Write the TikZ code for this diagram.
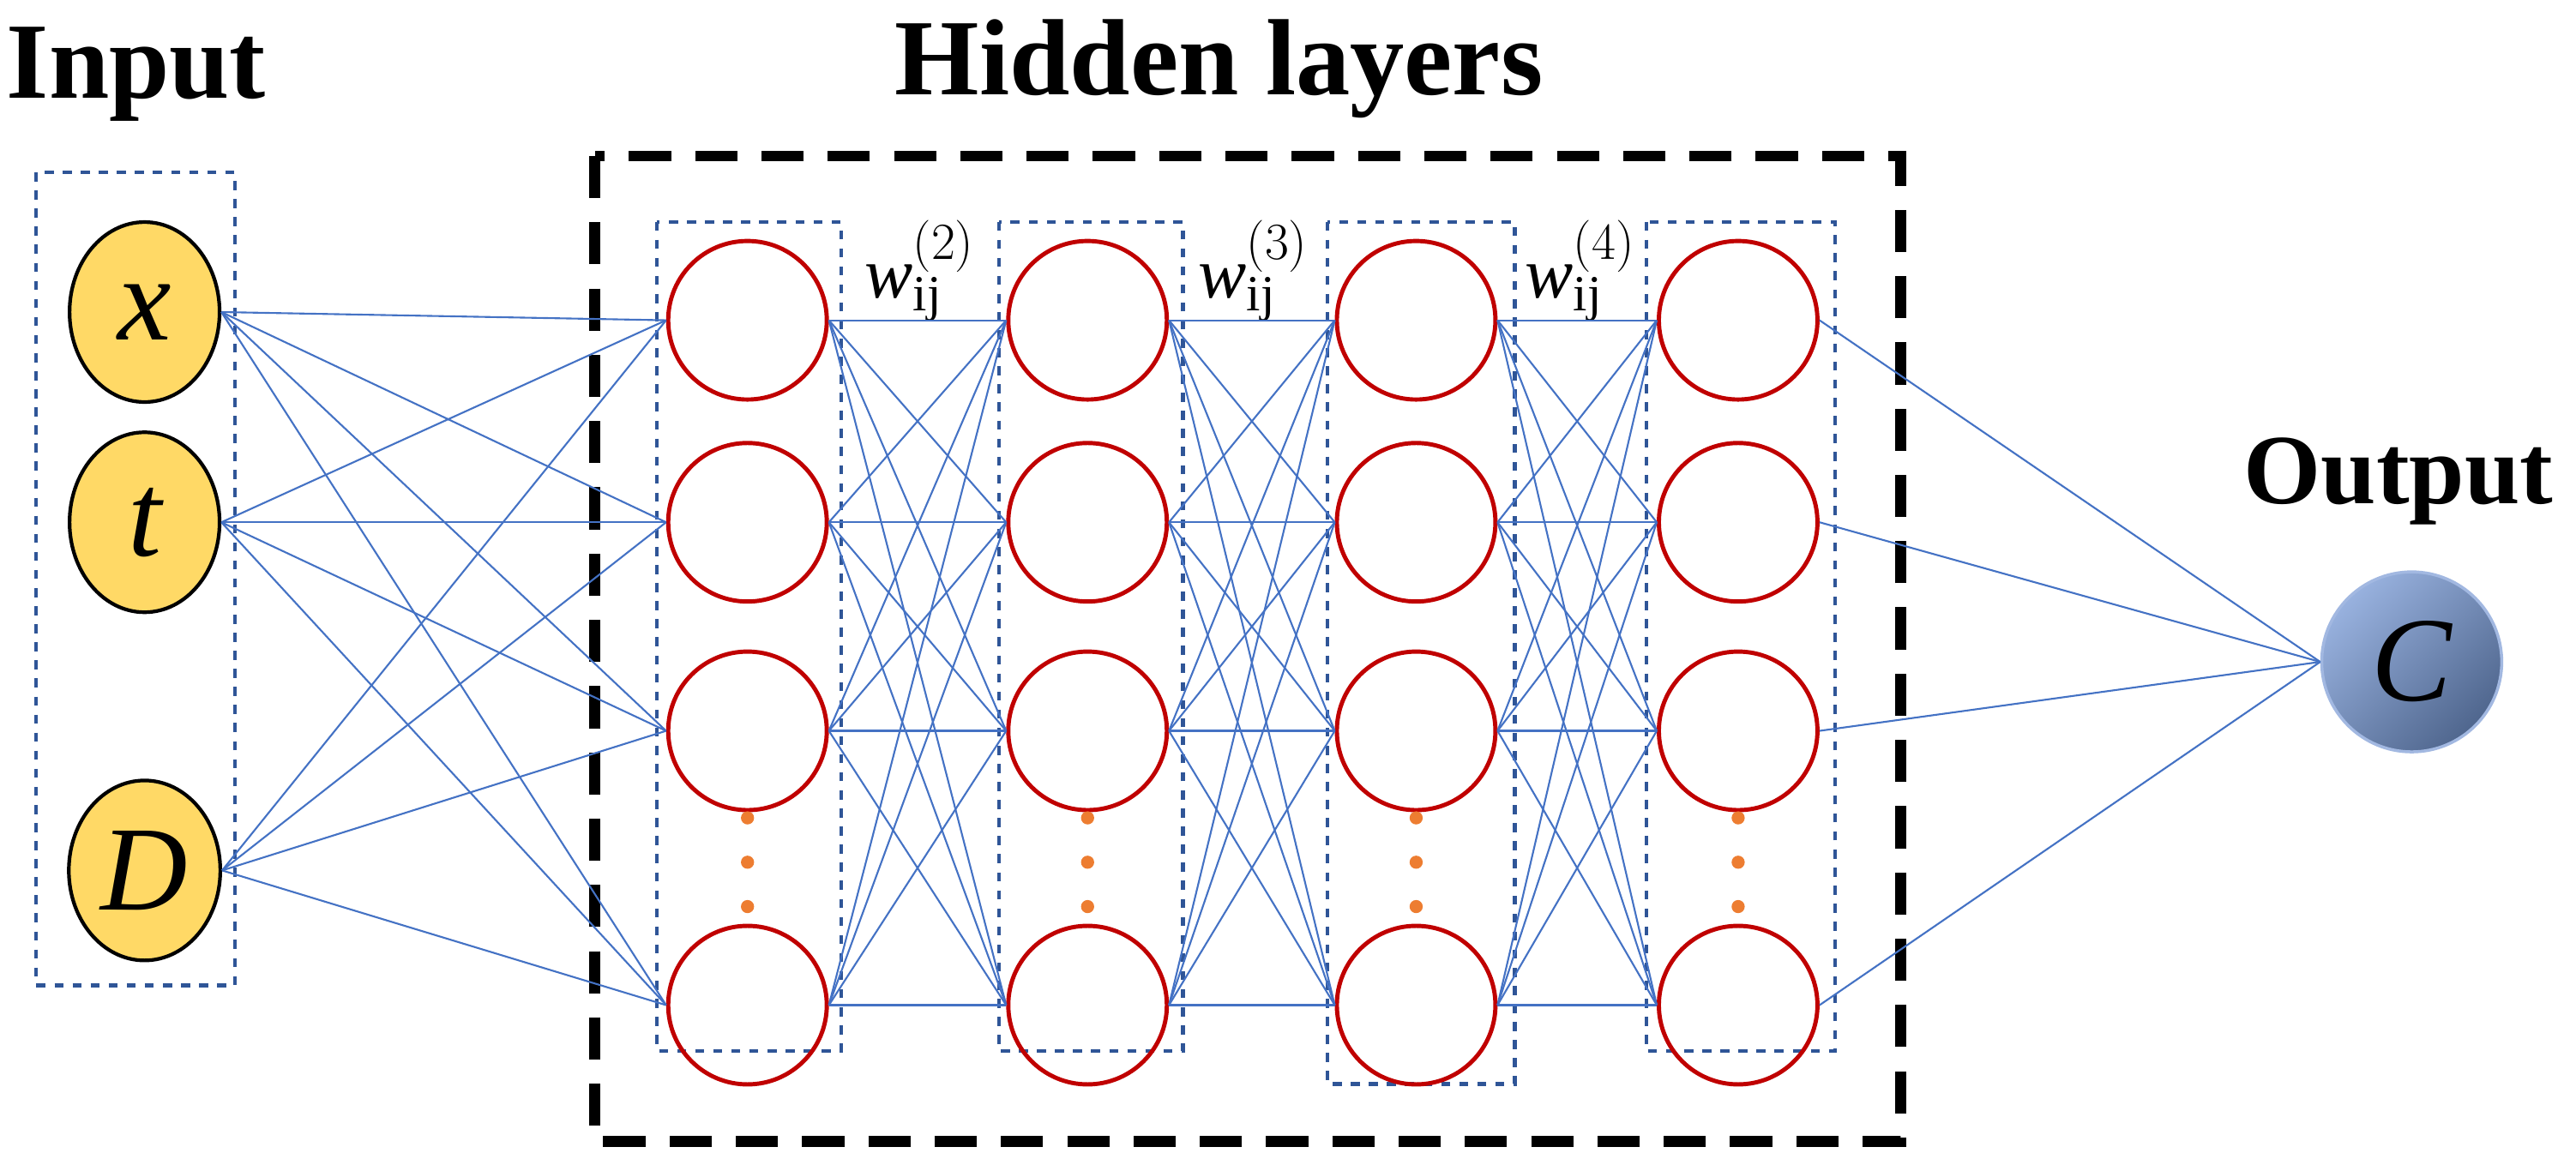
\documentclass[tikz,border=0pt]{standalone}
\usepackage{fontspec}
\setmainfont{Liberation Serif}
\usetikzlibrary{shapes.geometric}
\definecolor{linkblue}{RGB}{68,114,196}
\definecolor{boxblue}{RGB}{47,85,151}
\definecolor{inyellow}{RGB}{255,217,102}
\definecolor{nred}{RGB}{192,0,0}
\definecolor{dotorange}{RGB}{237,125,49}
\begin{document}
\begin{tikzpicture}[x=0.01916cm, y=-0.01916cm,
  innode/.style={ellipse, draw=black, line width=1.2pt, fill=inyellow, minimum width=1.75cm, minimum height=2.1cm, font=\fontsize{40}{42}\selectfont\itshape},
  hid/.style={circle, draw=nred, line width=1.4pt, minimum size=1.85cm},
  link/.style={draw=linkblue, line width=0.6pt},
  colbox/.style={draw=boxblue, dashed, line width=1.2pt},
  title/.style={font=\fontsize{36}{38}\selectfont\bfseries},
  wlab/.style={font=\fontsize{24}{26}\selectfont}]
\useasboundingbox (0,0) rectangle (1568,713);
% Boxes
\draw[line width=3.5pt, dash pattern=on 14pt off 8pt] (362,95) rectangle (1157,695);
\draw[colbox] (22,105) rectangle (143,600);
\draw[colbox] (400,135) rectangle (512,640);
\draw[colbox] (608,135) rectangle (720,640);
\draw[colbox] (808,135) rectangle (922,660);
\draw[colbox] (1002,135) rectangle (1117,640);
% Titles
\node[title] (tin) at (83,45) {Input};
\node[title] (thid) at (742,42) {Hidden layers};
\node[title, font=\fontsize{33}{35}\selectfont\bfseries] (tout) at (1460,293) {Output};
% Input nodes
\node[innode] (in1) at (88,190) {x};
\node[innode] (in2) at (88,318) {t};
\node[innode] (in3) at (88,530) {D};
% Hidden nodes
\foreach \c/\x in {1/455,2/662,3/862,4/1058}{
  \foreach \r/\y in {1/195,2/318,3/445,4/612}
    \node[hid] (h\c\r) at (\x,\y) {};
  \foreach \d/\y in {1/498,2/525,3/552}
    \fill[dotorange] (\x,\y) circle (4);
}
% Output node
\node[circle, draw=linkblue!50, line width=1pt, shading=axis, left color=linkblue!55, right color=boxblue!60!gray, shading angle=45, minimum size=2.1cm, font=\fontsize{40}{42}\selectfont\itshape] (out) at (1468,403) {C};
% Weight labels
\node[wlab] (w2) at (560,165) {\textit{w}$_{\mathrm{ij}}^{(2)}$};
\node[wlab] (w3) at (763,165) {\textit{w}$_{\mathrm{ij}}^{(3)}$};
\node[wlab] (w4) at (962,165) {\textit{w}$_{\mathrm{ij}}^{(4)}$};
% Links
\foreach \i in {1,2,3}
  \foreach \j in {1,2,3,4}
    \draw[link] (in\i.east) -- (h1\j.west);
\foreach \c/\n in {1/2,2/3,3/4}
  \foreach \i in {1,2,3,4}
    \foreach \j in {1,2,3,4}
      \draw[link] (h\c\i.east) -- (h\n\j.west);
\foreach \j in {1,2,3,4}
  \draw[link] (h4\j.east) -- (out.west);
\end{tikzpicture}
\end{document}
